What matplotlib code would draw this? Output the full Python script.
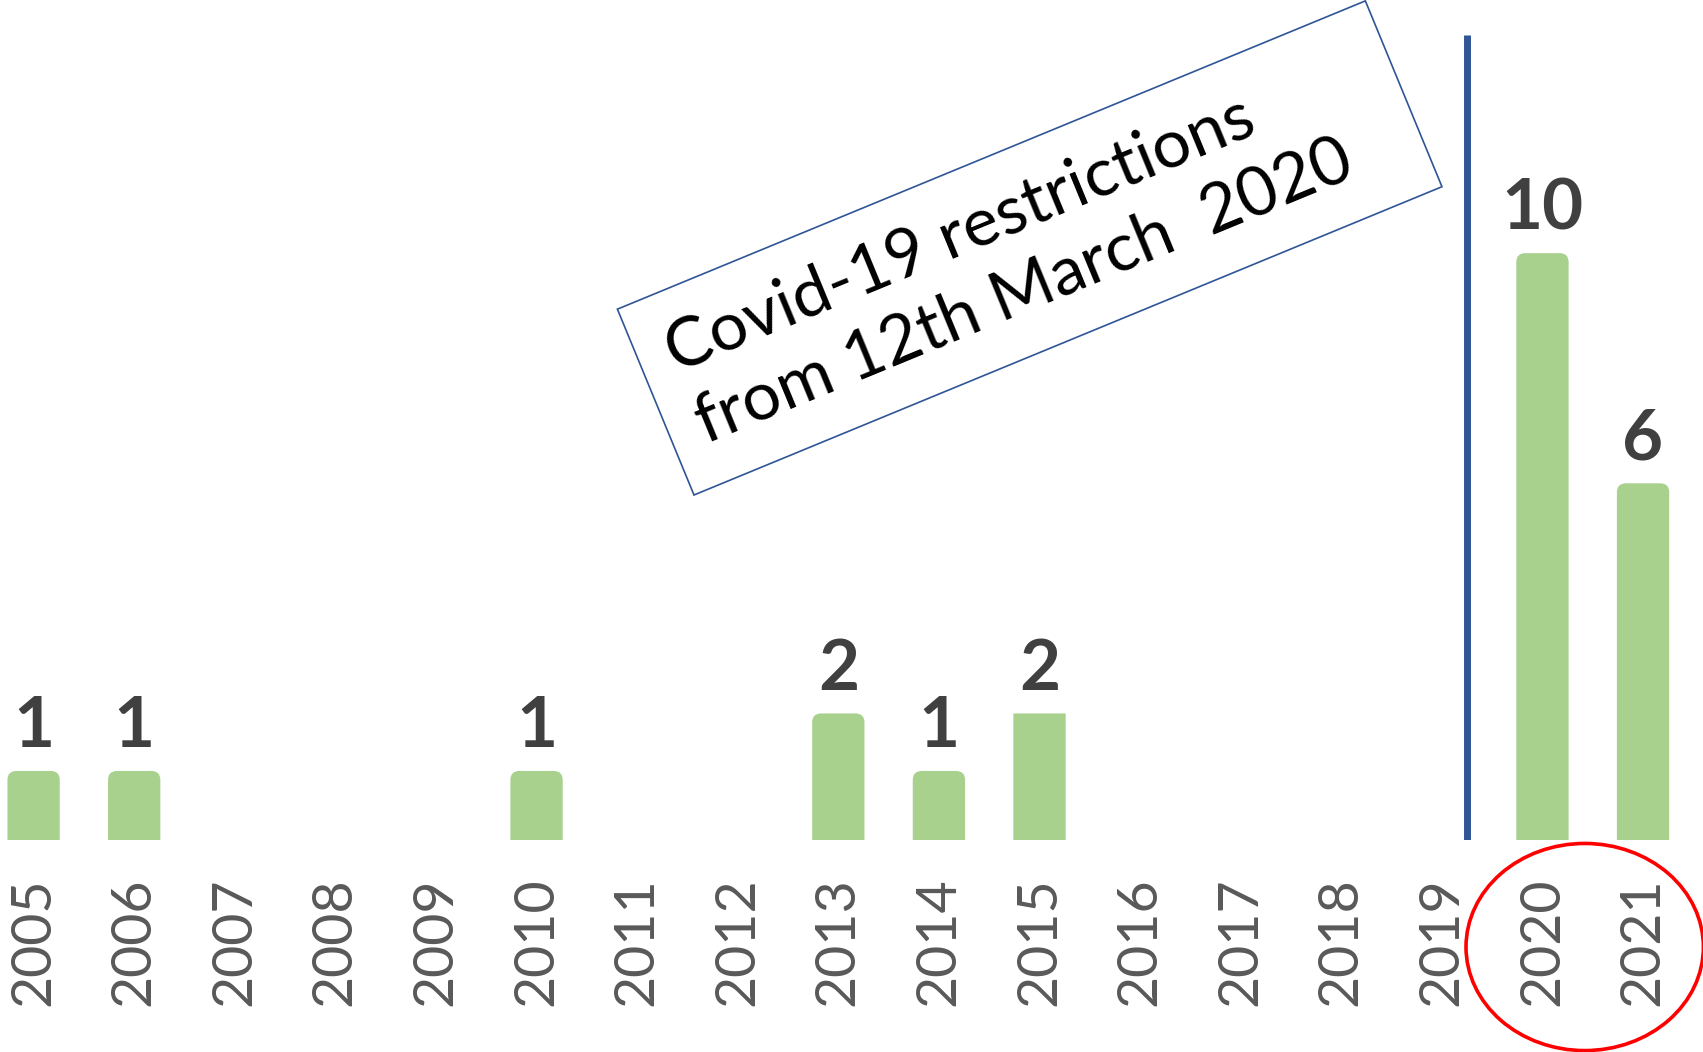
import matplotlib.pyplot as plt
import numpy as np
from matplotlib.patches import Ellipse, PathPatch, Rectangle
from matplotlib.path import Path
from matplotlib.transforms import IdentityTransform

plt.rcParams["font.family"] = ["Lato", "DejaVu Sans"]

years = ["2005", "2006", "2007", "2008", "2009", "2010", "2011", "2012", "2013",
         "2014", "2015", "2016", "2017", "2018", "2019", "2020", "2021"]
counts = [1, 1, 0, 0, 0, 1, 0, 0, 2, 1, 2, 0, 0, 0, 0, 10, 6]
note_text = "Covid-19 restrictions\nfrom 12th March  2020"

BAR_COLOR = "#A9D18E"
LABEL_COLOR = "#404040"
TICK_COLOR = "#595959"
LINE_COLOR = "#2F5597"


def rounded_bar(ax, x, base, top, width, rx, ry, color, rounded=True):
    left, right = x - width / 2, x + width / 2
    if not rounded:
        rx = ry = 0.0
    verts = [(left, base), (left, top - ry), (left, top), (left + rx, top),
             (right - rx, top), (right, top), (right, top - ry), (right, base),
             (left, base)]
    codes = [Path.MOVETO, Path.LINETO, Path.CURVE3, Path.CURVE3,
             Path.LINETO, Path.CURVE3, Path.CURVE3, Path.LINETO, Path.CLOSEPOLY]
    ax.add_patch(PathPatch(Path(verts, codes), facecolor=color, edgecolor="none"))


def main() -> None:
    fig = plt.figure(figsize=(17.03, 10.52), dpi=100)
    ax = fig.add_axes([0, 212 / 1052, 1, 840 / 1052])

    x = np.arange(len(years))
    ax.set_xlim(-0.334, 16.596)
    ax.set_ylim(-0.2, 14.4)
    base = ax.get_ylim()[0]

    # corner radius ~9 px in both directions
    px_x = 1703 / (16.596 + 0.334)
    px_y = 840 / 14.6
    rx, ry = 9 / px_x, 9 / px_y

    for xi, yr, v in zip(x, years, counts):
        if v == 0:
            continue
        rounded_bar(ax, xi, base, v, 0.52, rx, ry, BAR_COLOR,
                    rounded=(yr != "2015"))
        ax.annotate(str(v), xy=(xi, v), xytext=(0, 17), textcoords="offset points",
                    ha="center", va="baseline", fontsize=51, fontweight="bold",
                    color=LABEL_COLOR)

    ax.set_xticks(x)
    ax.set_xticklabels(years, rotation=90, fontsize=40, color=TICK_COLOR, va="top")
    ax.tick_params(axis="x", length=0, pad=27)
    ax.set_yticks([])
    for s in ax.spines.values():
        s.set_visible(False)

    # cutoff line between 2019 and 2020
    cut = years.index("2019") + 0.25
    ax.plot([cut, cut], [-0.27, 13.79], color=LINE_COLOR, lw=5, solid_capstyle="butt")

    # highlight of the covid years
    ax.add_patch(Ellipse((15.42, -2.06), 2.36, 3.6, fill=False, edgecolor="red",
                         lw=2.6, clip_on=False))

    # rotated note box, in pixels
    ang = 22.4
    bx, by, bw, bh = 694, 557, 809, 201
    fig.patches.append(Rectangle((bx, by), bw, bh, angle=ang, fill=False,
                                 edgecolor=LINE_COLOR, lw=1.2,
                                 transform=IdentityTransform(), figure=fig))
    t = np.deg2rad(ang)
    u = 30
    tx = bx + u * np.cos(t) - bh / 2 * np.sin(t)
    ty = by + u * np.sin(t) + bh / 2 * np.cos(t)
    fig.text(tx, ty, note_text, transform=IdentityTransform(), rotation=ang,
             rotation_mode="anchor", ha="left", va="center", fontsize=49,
             linespacing=1.3, color="black")

    fig.savefig("out.png", dpi=100)


if __name__ == "__main__":
    main()
